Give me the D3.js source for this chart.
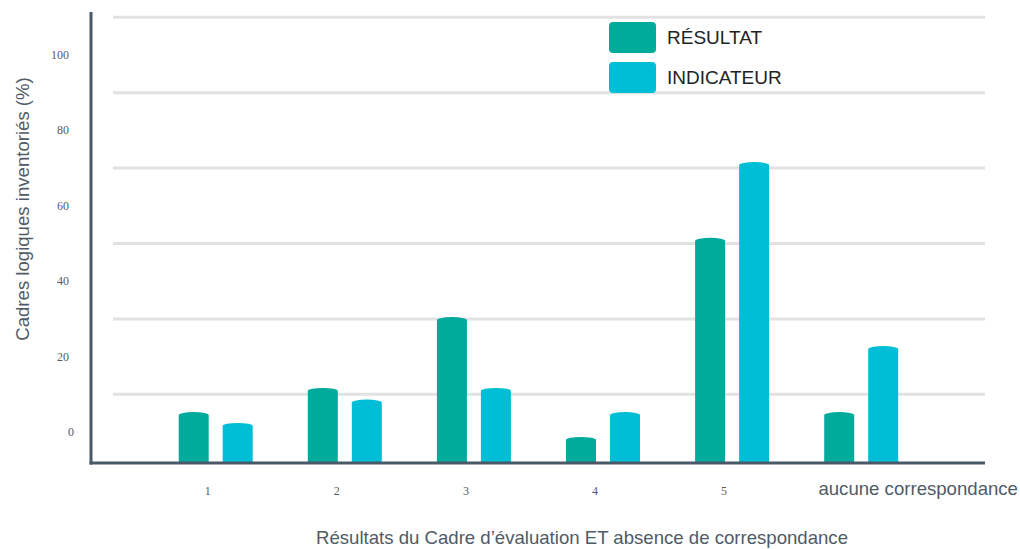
<!DOCTYPE html>
<html>
<head>
<meta charset="utf-8">
<script src="https://cdn.jsdelivr.net/npm/d3@7"></script>
<style>
  body { margin: 0; background: #fff; }
  svg { display: block; }
</style>
</head>
<body>
<script>
// categories, series and values
var categories = ["1", "2", "3", "4", "5", "aucune correspondance"];
var seriesNames = ["RÉSULTAT", "INDICATEUR"];
var resultat = [5.3, 11.7, 30.5, -1.3, 51.5, 5.3];
var indicateur = [2.4, 8.6, 11.7, 5.3, 71.6, 22.8];
var yTicks = [0, 20, 40, 60, 80, 100];
var gridValues = [10, 30, 50, 70, 90, 110];
var colors = ["#00ab9b", "#00bed6"];

var w = 1020, h = 549;
var axisCol = "#4a5968", textCol = "#4f5b66";
var sans = "'Liberation Sans', Arial, sans-serif";
var serif = "'Liberation Serif', 'DejaVu Serif', serif";

var svg = d3.select("body").append("svg")
    .attr("width", w)
    .attr("height", h);

// y scale: label zero sits above the drawn baseline
var y = d3.scaleLinear().domain([0, 100]).range([432, 55]);
var baseY = 463;

// outer band per category, inner band per series
var x0 = d3.scaleBand().domain(categories).range([151.15, 925.75]).padding(0);
var x1 = d3.scaleBand().domain(seriesNames)
    .range([x0.bandwidth() / 2 - 37, x0.bandwidth() / 2 + 37])
    .paddingInner(0.318).paddingOuter(0);

// gridlines
svg.selectAll(".grid")
    .data(gridValues)
    .enter().append("line")
    .attr("class", "grid")
    .attr("x1", 113).attr("x2", 985)
    .attr("y1", function(d){ return y(d); })
    .attr("y2", function(d){ return y(d); })
    .style("stroke", "#e2e2e2")
    .style("stroke-width", 3);

// y tick labels
svg.selectAll(".ytick")
    .data(yTicks)
    .enter().append("text")
    .attr("class", "ytick")
    .attr("x", function(d){ return d === 0 ? 74 : 69; })
    .attr("y", function(d){ return y(d) + 4; })
    .attr("text-anchor", "end")
    .style("font-family", serif)
    .style("font-size", "12px")
    .style("fill", "#555c63")
    .text(function(d){ return d; });

// bars with a small rounded cap
function barPath(xl, bw, top) {
    var ry = 3, rx = bw / 2;
    return "M" + xl + "," + baseY +
        "V" + (top + ry) +
        "A" + rx + "," + ry + " 0 0 1 " + (xl + bw) + "," + (top + ry) +
        "V" + baseY + "Z";
}

var data = categories.map(function(c, i){
    return { cat: c, vals: [
        { s: seriesNames[0], v: resultat[i], c: colors[0] },
        { s: seriesNames[1], v: indicateur[i], c: colors[1] }
    ]};
});

var groups = svg.selectAll(".group")
    .data(data)
    .enter().append("g")
    .attr("class", "group")
    .attr("transform", function(d){ return "translate(" + x0(d.cat) + ",0)"; });

groups.selectAll("path")
    .data(function(d){ return d.vals; })
    .enter().append("path")
    .attr("d", function(d){ return barPath(x1(d.s), x1.bandwidth(), y(d.v)); })
    .style("fill", function(d){ return d.c; });

// axes lines
svg.append("line")
    .attr("x1", 91).attr("x2", 91).attr("y1", 12).attr("y2", baseY + 1.5)
    .style("stroke", axisCol).style("stroke-width", 3);
svg.append("line")
    .attr("x1", 89.5).attr("x2", 985).attr("y1", baseY).attr("y2", baseY)
    .style("stroke", axisCol).style("stroke-width", 3);

// x tick labels
var last = categories.length - 1;
svg.selectAll(".xtick")
    .data(categories)
    .enter().append("text")
    .attr("class", "xtick")
    .attr("x", function(d, i){
        var c = x0(d) + x0.bandwidth() / 2;
        return i === last ? c + 57 : c - 8;
    })
    .attr("y", function(d, i){ return i === last ? 495 : 495; })
    .attr("text-anchor", "middle")
    .style("font-family", function(d, i){ return i === last ? sans : serif; })
    .style("font-size", function(d, i){ return i === last ? "18.6px" : "12px"; })
    .style("fill", function(d, i){ return i === last ? textCol : "#555c63"; })
    .text(function(d){ return d; });

// axis titles
svg.append("text")
    .attr("x", 582).attr("y", 544)
    .attr("text-anchor", "middle")
    .style("font-family", sans)
    .style("font-size", "18.6px")
    .style("fill", textCol)
    .text("Résultats du Cadre d’évaluation ET absence de correspondance");

svg.append("text")
    .attr("transform", "translate(29,209) rotate(-90)")
    .attr("text-anchor", "middle")
    .style("font-family", sans)
    .style("font-size", "18.6px")
    .style("fill", textCol)
    .text("Cadres logiques inventoriés (%)");

// legend
var legend = svg.selectAll(".legend")
    .data(seriesNames)
    .enter().append("g")
    .attr("class", "legend")
    .attr("transform", function(d, i){ return "translate(609," + (22 + i * 40) + ")"; });

legend.append("rect")
    .attr("width", 47).attr("height", 31)
    .attr("rx", 4).attr("ry", 4)
    .style("fill", function(d, i){ return colors[i]; });

legend.append("text")
    .attr("x", 58).attr("y", 22)
    .style("font-family", sans)
    .style("font-size", "19px")
    .style("fill", "#222")
    .text(function(d){ return d; });
</script>
</body>
</html>
